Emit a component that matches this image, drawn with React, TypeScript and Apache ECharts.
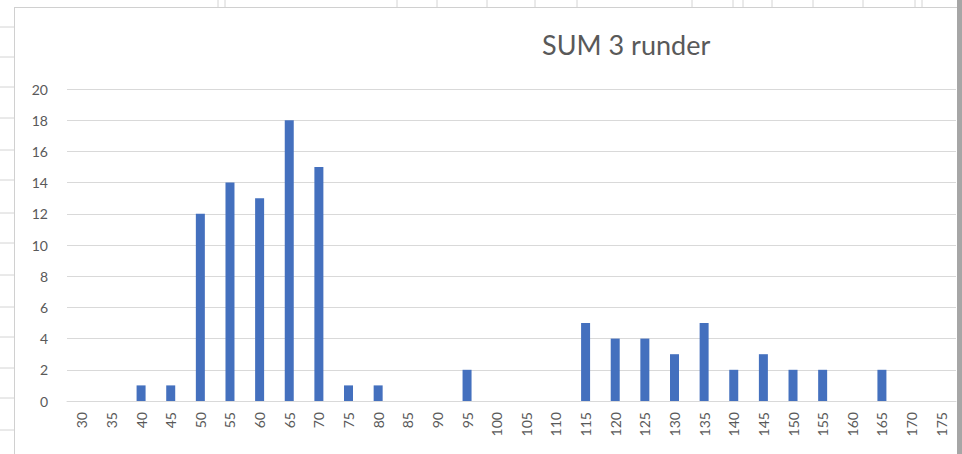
import React, { useEffect, useRef } from "react";
import * as echarts from "echarts";

const categories = ["30","35","40","45","50","55","60","65","70","75","80","85","90","95","100","105","110","115","120","125","130","135","140","145","150","155","160","165","170","175"];
const counts = [0,0,1,1,12,14,13,18,15,1,1,0,0,2,0,0,0,5,4,4,3,5,2,3,2,2,0,2,0,0];
const yTicks = [0,2,4,6,8,10,12,14,16,18,20];
const titleText = "SUM 3 runder";

const W = 962;
const H = 454;

export default function App() {
  const ref = useRef<HTMLDivElement>(null);
  useEffect(() => {
    document.body.style.margin = "0";
    const chart = echarts.init(ref.current!, null, { renderer: "svg" });
    const gfx: any[] = [];
    const rowYs = [27, 57, 87, 118, 150, 180, 213, 243, 275, 307, 337, 368, 398, 430];
    rowYs.forEach((y) =>
      gfx.push({ type: "line", shape: { x1: 0, y1: y, x2: 14, y2: y }, style: { stroke: "#d4d4d4", lineWidth: 1 }, silent: true })
    );
    const colXs = [218, 225, 397, 437, 487, 535, 577, 692, 733, 743, 772, 813, 863, 915, 922];
    colXs.forEach((x) =>
      gfx.push({ type: "line", shape: { x1: x, y1: 0, x2: x, y2: 7 }, style: { stroke: "#d4d4d4", lineWidth: 1 }, silent: true })
    );
    gfx.push({ type: "line", shape: { x1: 14.5, y1: 7, x2: 14.5, y2: H }, style: { stroke: "#d0d0d0", lineWidth: 1 }, silent: true });
    gfx.push({ type: "line", shape: { x1: 14, y1: 7.5, x2: 957, y2: 7.5 }, style: { stroke: "#d0d0d0", lineWidth: 1 }, silent: true });
    gfx.push({ type: "rect", shape: { x: 957, y: 0, width: 5, height: H }, style: { fill: "#a6a6a6" }, silent: true });

    chart.setOption({
      animation: false,
      backgroundColor: "#ffffff",
      title: {
        text: titleText,
        left: 537,
        top: 26,
        textStyle: { fontFamily: "Lato", fontSize: 27, fontWeight: "normal", color: "#595959" },
      },
      grid: { left: 67, right: 6, top: 89, bottom: 53 },
      xAxis: {
        type: "category",
        data: categories,
        boundaryGap: true,
        axisLine: { lineStyle: { color: "#d9d9d9" } },
        axisTick: { show: false },
        axisLabel: {
          rotate: 90,
          interval: 0,
          margin: 11,
          fontFamily: "Lato",
          fontSize: 14,
          color: "#595959",
        },
      },
      yAxis: {
        type: "value",
        min: yTicks[0],
        max: yTicks[yTicks.length - 1],
        interval: 2,
        axisLine: { show: false },
        axisTick: { show: false },
        splitLine: { lineStyle: { color: "#d9d9d9" } },
        axisLabel: { fontFamily: "Lato", fontSize: 14, color: "#595959", margin: 19 },
      },
      series: [
        {
          type: "bar",
          data: counts,
          barWidth: 9,
          itemStyle: { color: "#4470BE" },
        },
      ],
      graphic: gfx,
    });
    return () => chart.dispose();
  }, []);
  return <div ref={ref} style={{ width: W, height: H, position: "absolute", left: 0, top: 0 }} />;
}
